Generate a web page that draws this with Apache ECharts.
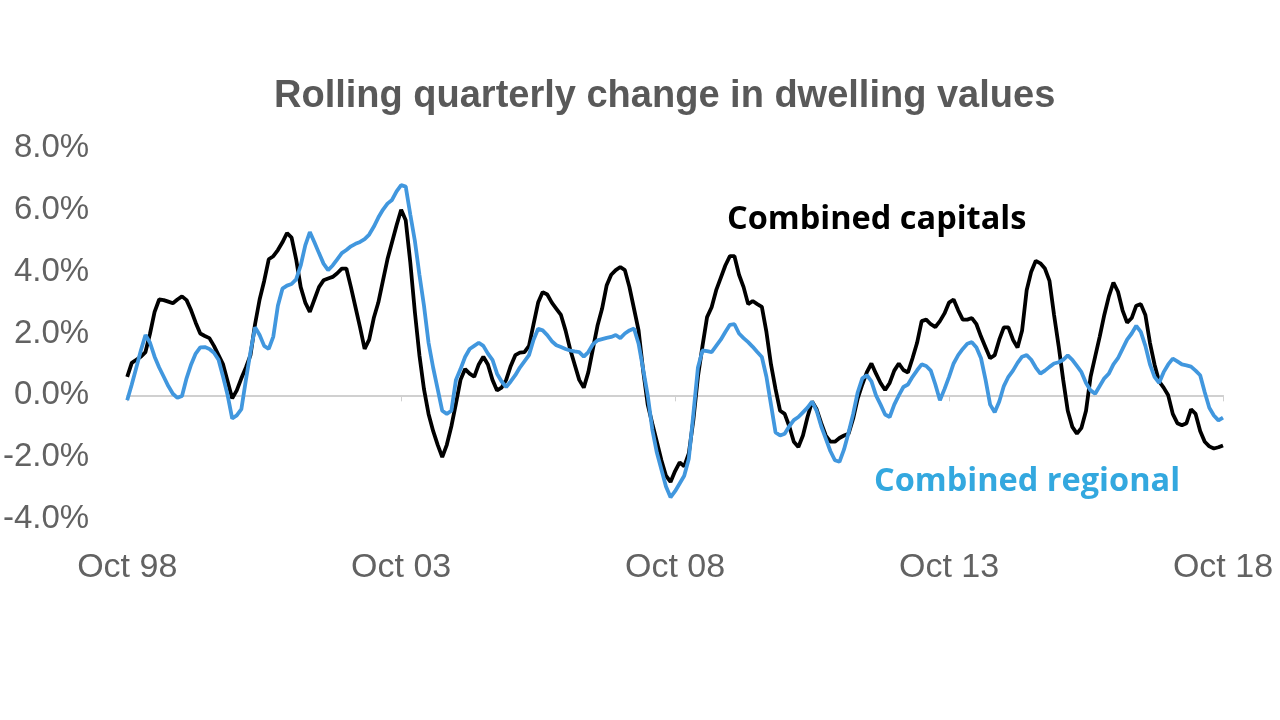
<!DOCTYPE html>
<html>
<head>
<meta charset="utf-8">
<script src="https://cdn.jsdelivr.net/npm/echarts@6/dist/echarts.min.js"></script>
<style>
html,body{margin:0;padding:0;background:#fff;}
#chart{width:1280px;height:720px;}
</style>
</head>
<body>
<div id="chart"></div>
<script>
const chartTitle = 'Rolling quarterly change in dwelling values';
const seriesNames = ['Combined capitals', 'Combined regional'];
const monthNames = ['Jan','Feb','Mar','Apr','May','Jun','Jul','Aug','Sep','Oct','Nov','Dec'];
const startYear = 1998, startMonth = 9; // October 1998

const capitals = [
0.6,1.05,1.15,1.25,1.4,2.0,2.7,3.1,3.08,3.03,2.98,3.1,3.2,3.08,2.75,2.35,2.0,1.92,1.85,1.6,
1.3,1.0,0.45,-0.1,0.16,0.55,0.9,1.3,2.3,3.1,3.7,4.4,4.5,4.7,4.95,5.25,5.1,4.4,3.5,3.0,
2.7,3.1,3.5,3.72,3.78,3.83,3.95,4.1,4.1,3.5,2.85,2.2,1.5,1.8,2.5,3.0,3.7,4.4,4.95,5.5,
6.0,5.66,4.3,2.7,1.3,0.2,-0.6,-1.15,-1.6,-2.0,-1.6,-1.0,-0.27,0.5,0.85,0.7,0.6,1.0,1.25,1.0,
0.5,0.16,0.25,0.5,0.95,1.3,1.38,1.4,1.6,2.3,3.0,3.34,3.26,3.0,2.8,2.6,2.1,1.5,1.0,0.5,
0.25,0.75,1.5,2.25,2.8,3.55,3.9,4.05,4.15,4.05,3.5,2.8,2.1,0.8,-0.3,-0.91,-1.5,-2.1,-2.6,-2.8,
-2.45,-2.17,-2.3,-1.88,-0.8,0.6,1.6,2.53,2.85,3.4,3.8,4.2,4.5,4.5,3.9,3.5,2.95,3.05,2.95,2.86,
2.05,1.0,0.2,-0.5,-0.6,-1.0,-1.5,-1.67,-1.3,-0.7,-0.2,-0.45,-0.9,-1.3,-1.5,-1.5,-1.38,-1.3,-1.24,-0.75,
-0.1,0.35,0.75,1.03,0.7,0.4,0.17,0.4,0.8,1.03,0.82,0.74,1.2,1.7,2.4,2.45,2.3,2.21,2.4,2.65,
3.0,3.1,2.75,2.45,2.45,2.5,2.3,1.9,1.55,1.2,1.3,1.8,2.2,2.2,1.8,1.55,2.1,3.4,4.0,4.35,
4.27,4.1,3.7,2.6,1.6,0.5,-0.5,-1.02,-1.24,-1.05,-0.5,0.6,1.25,1.9,2.6,3.2,3.65,3.35,2.75,2.35,
2.5,2.9,2.95,2.6,1.7,1.0,0.45,0.25,0.0,-0.6,-0.9,-0.97,-0.9,-0.45,-0.6,-1.15,-1.5,-1.65,-1.72,-1.68,
-1.62
];

const regional = [
-0.16,0.35,0.9,1.46,1.95,1.7,1.25,0.9,0.6,0.3,0.05,-0.08,-0.02,0.55,1.0,1.35,1.55,1.56,1.5,1.38,
1.15,0.6,0.0,-0.75,-0.65,-0.45,0.5,1.4,2.2,1.95,1.6,1.5,1.9,2.9,3.45,3.55,3.6,3.75,4.2,4.85,
5.28,4.95,4.6,4.26,4.05,4.2,4.4,4.6,4.7,4.82,4.9,4.96,5.05,5.2,5.45,5.75,6.0,6.2,6.32,6.6,
6.8,6.75,5.85,5.0,3.9,2.9,1.7,0.9,0.2,-0.5,-0.6,-0.5,0.5,0.85,1.24,1.5,1.6,1.7,1.6,1.35,
1.15,0.7,0.45,0.27,0.45,0.65,0.9,1.1,1.3,1.8,2.15,2.1,1.95,1.75,1.62,1.56,1.5,1.45,1.42,1.4,
1.25,1.4,1.65,1.78,1.82,1.86,1.89,1.95,1.85,2.0,2.1,2.16,1.67,0.85,0.0,-1.1,-1.85,-2.4,-2.95,-3.3,
-3.1,-2.85,-2.6,-2.05,-0.6,0.9,1.45,1.43,1.4,1.6,1.8,2.05,2.28,2.3,2.0,1.85,1.72,1.57,1.4,1.24,
0.6,-0.3,-1.2,-1.3,-1.24,-1.0,-0.8,-0.7,-0.55,-0.4,-0.2,-0.5,-1.0,-1.4,-1.8,-2.1,-2.15,-1.75,-1.2,-0.6,
0.1,0.55,0.65,0.45,0.0,-0.3,-0.62,-0.7,-0.3,0.0,0.27,0.35,0.6,0.81,1.0,0.95,0.8,0.35,-0.16,0.2,
0.6,1.03,1.3,1.5,1.67,1.72,1.55,1.2,0.5,-0.3,-0.55,-0.2,0.3,0.6,0.8,1.05,1.25,1.3,1.15,0.9,
0.7,0.8,0.92,1.03,1.07,1.15,1.29,1.15,0.95,0.75,0.4,0.16,0.05,0.3,0.55,0.7,1.0,1.2,1.5,1.8,
2.0,2.25,2.05,1.6,1.0,0.6,0.4,0.75,1.0,1.19,1.1,1.0,0.97,0.93,0.8,0.65,0.1,-0.4,-0.65,-0.81,
-0.72
];

const yTicks = { min: -4, max: 8, interval: 2 };

const categories = [];
for (let i = 0; i < capitals.length; i++) {
  const m = (startMonth + i) % 12;
  const y = startYear + Math.floor((startMonth + i) / 12);
  categories.push(monthNames[m] + ' ' + String(y % 100).padStart(2, '0'));
}

const chart = echarts.init(document.getElementById('chart'));
const grey = '#626262';
chart.setOption({
  backgroundColor: '#ffffff',
  animation: false,
  title: [
    { text: chartTitle, left: 269, top: 73,
      textStyle: { fontFamily: 'Liberation Sans', fontWeight: 'bold', fontSize: 38, color: '#595959' } },
    { text: seriesNames[0], left: 722, top: 198,
      textStyle: { fontFamily: 'Open Sans', fontWeight: 'bold', fontSize: 32.5, color: '#000000' } },
    { text: seriesNames[1], left: 869, top: 460,
      textStyle: { fontFamily: 'Open Sans', fontWeight: 'bold', fontSize: 32.5, color: '#33a8df' } }
  ],
  grid: { left: 123, right: 57, top: 148, bottom: 201, containLabel: false },
  xAxis: [
    { type: 'category', data: categories, boundaryGap: false, position: 'bottom',
      axisLine: { show: false, onZero: false }, axisTick: { show: false },
      axisLabel: { interval: 59, margin: 32, color: grey, fontSize: 34,
        fontFamily: 'Liberation Sans, sans-serif' },
      splitLine: { show: false } },
    { type: 'category', data: categories, boundaryGap: false, position: 'bottom',
      axisLine: { show: true, onZero: true, lineStyle: { color: '#d0d0d0', width: 2 } },
      axisTick: { show: true, interval: 59, length: 6, lineStyle: { color: '#d0d0d0', width: 1 } },
      axisLabel: { show: false }, splitLine: { show: false } }
  ],
  yAxis: {
    type: 'value', min: yTicks.min, max: yTicks.max, interval: yTicks.interval,
    axisLine: { show: false }, axisTick: { show: false }, splitLine: { show: false },
    axisLabel: { margin: 38, color: grey, fontSize: 33, fontFamily: 'Liberation Sans',
      formatter: v => v.toFixed(1) + '%' }
  },
  series: [
    { name: seriesNames[0], type: 'line', xAxisIndex: 0, data: capitals, symbol: 'none',
      lineStyle: { color: '#000000', width: 3.8 }, z: 2 },
    { name: seriesNames[1], type: 'line', xAxisIndex: 0, data: regional, symbol: 'none',
      lineStyle: { color: '#4197de', width: 3.8 }, z: 3 }
  ]
});
</script>
</body>
</html>
